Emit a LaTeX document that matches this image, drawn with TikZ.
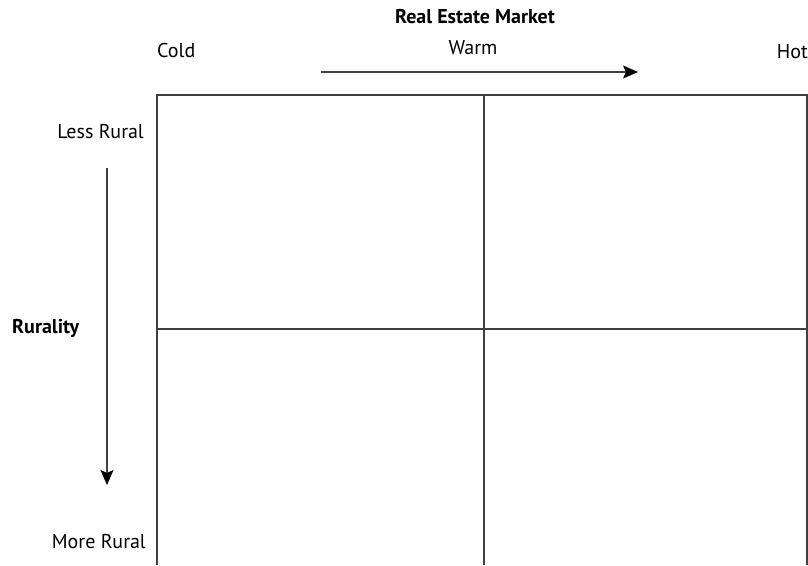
\documentclass[tikz,border=0pt]{standalone}
\usepackage{fontspec}
\setmainfont{PT Sans}
\usetikzlibrary{arrows.meta}
\definecolor{linegray}{HTML}{404040}
\tikzset{
  gridline/.style={draw=linegray, line width=1.4pt},
  axisarrow/.style={draw=linegray, line width=1.4pt, -{Stealth[length=15pt,width=13pt,inset=3pt,color=black]}},
  lbl/.style={inner sep=0pt, font=\fontsize{20}{24}\selectfont},
  ttl/.style={inner sep=0pt, font=\fontsize{20}{24}\selectfont\bfseries},
}
\begin{document}
\begin{tikzpicture}[x=1pt,y=-1pt]
\useasboundingbox (0,0) rectangle (808,565);
% grid
\coordinate (tl) at (157,95);
\coordinate (tr) at (807,95);
\coordinate (bl) at (157,565);
\coordinate (br) at (807,565);
\coordinate (mt) at (484,95);
\coordinate (mb) at (484,565);
\coordinate (ml) at (157,329);
\coordinate (mr) at (807,329);
\draw[gridline] (bl) -- (tl) -- (tr) -- (br);
\draw[gridline] (mt) -- (mb);
\draw[gridline] (ml) -- (mr);
% labels
\node[ttl] (title) at (475,17) {Real Estate Market};
\node[lbl, anchor=west] (cold) at (157,50) {Cold};
\node[lbl] (warm) at (473,48) {Warm};
\node[lbl, anchor=east] (hot) at (808,52) {Hot};
\node[lbl, anchor=east] (less) at (144,132) {Less Rural};
\node[ttl, anchor=west] (rurality) at (12,328) {Rurality};
\node[lbl, anchor=east] (more) at (146,542) {More Rural};
% arrows
\coordinate (ha) at (321,72);
\coordinate (hb) at (638,72);
\coordinate (va) at (107,168);
\coordinate (vb) at (107,485);
\draw[axisarrow] (ha) -- (hb);
\draw[axisarrow] (va) -- (vb);
\end{tikzpicture}
\end{document}
